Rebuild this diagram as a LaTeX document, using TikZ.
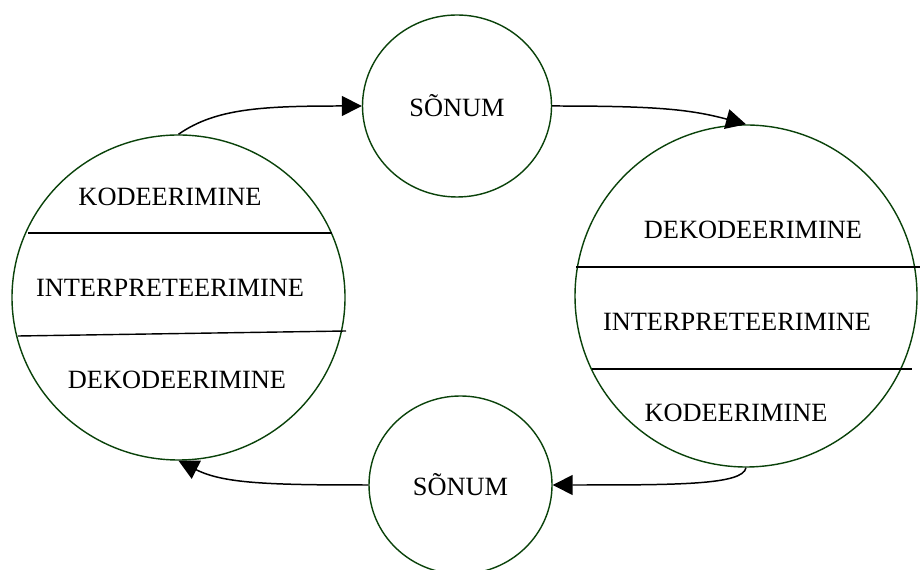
\documentclass[tikz,border=0pt]{standalone}
\usepackage{fontspec}
\setmainfont{Liberation Serif}
\usepackage{xcolor}
\usepackage{tikz}
\usetikzlibrary{shapes.geometric,arrows.meta}
\definecolor{ringgreen}{RGB}{10,66,10}

\begin{document}
\begin{tikzpicture}[
  ring/.style={draw=ringgreen, line width=0.8pt, ellipse, inner sep=0pt},
  word/.style={font=\fontsize{15}{18}\selectfont, inner sep=0pt},
  arr/.style={line width=0.85pt, -{Triangle[length=0.4cm, width=0.4cm]}},
  cut/.style={line width=0.8pt}
]
\useasboundingbox (0,0) rectangle (18.4,11.38);
% ringid
\node[ring, minimum width=6.66cm, minimum height=6.5cm] (saatja) at (3.57,5.43) {};
\node[ring, minimum width=6.84cm, minimum height=6.84cm] (saaja) at (14.92,5.46) {};
\node[ring, word, minimum width=3.78cm, minimum height=3.64cm] (sonum1) at (9.14,9.26) {SÕNUM};
\node[ring, word, minimum width=3.66cm, minimum height=3.56cm] (sonum2) at (9.21,1.68) {SÕNUM};
% saatja pool
\node[word] (kood1) at (3.40,7.44) {KODEERIMINE};
\node[word] (interp1) at (3.40,5.62) {INTERPRETEERIMINE};
\node[word] (dekood1) at (3.54,3.78) {DEKODEERIMINE};
\draw[cut] (0.56,6.72) -- (6.64,6.72);
\draw[cut] (0.36,4.66) -- (6.92,4.76);
% saaja pool
\node[word] (dekood2) at (15.06,6.78) {DEKODEERIMINE};
\node[word] (interp2) at (14.74,4.94) {INTERPRETEERIMINE};
\node[word] (kood2) at (14.72,3.12) {KODEERIMINE};
\draw[cut] (11.52,6.04) -- (18.4,6.04);
\draw[cut] (11.84,4.0) -- (18.24,4.0);
% nooled
\draw[arr] (saatja.north) .. controls +(35:0.9) and +(180:2) .. (sonum1.west);
\draw[arr] (sonum1.east) .. controls +(0:2) and +(165:1.2) .. (saaja.north);
\draw[arr] (saaja.south) .. controls +(-100:0.35) and +(0:2.5) .. (sonum2.east);
\draw[arr] (sonum2.west) .. controls +(180:2) and +(-27:1) .. (saatja.south);
\end{tikzpicture}
\end{document}
